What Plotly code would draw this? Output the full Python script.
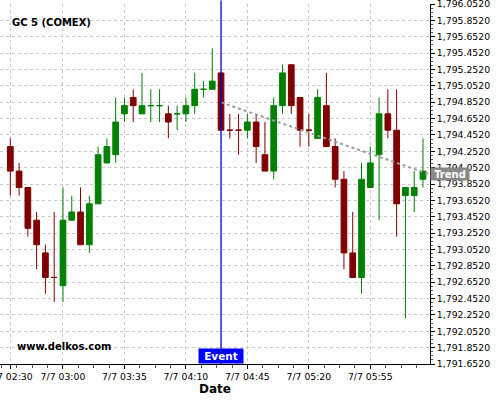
import plotly.graph_objects as go
import pandas as pd

# 5-minute bars, GC 5 (COMEX), 7/7 02:30 -> 06:25
times = pd.date_range("2021-07-07 02:30", periods=48, freq="5min")

opens = [1794.31, 1794.01, 1793.81, 1793.41, 1793.01, 1792.71, 1792.61, 1793.41,
         1793.51, 1793.11, 1793.61, 1794.11, 1794.21, 1794.71, 1794.91, 1794.71,
         1794.81, 1794.81, 1794.71, 1794.71, 1794.71, 1794.81, 1795.01, 1795.01,
         1795.21, 1794.51, 1794.51, 1794.51, 1794.61, 1794.21, 1794.01, 1794.81,
         1795.31, 1794.91, 1794.51, 1794.41, 1794.81, 1794.31, 1793.91, 1793.01,
         1792.71, 1793.81, 1794.21, 1794.71, 1794.51, 1793.71, 1793.71, 1793.91]
highs = [1794.41, 1794.11, 1793.81, 1793.51, 1793.11, 1793.51, 1793.81, 1793.71,
         1793.81, 1793.71, 1794.31, 1794.41, 1794.91, 1794.91, 1795.01, 1795.21,
         1795.01, 1795.01, 1794.81, 1794.81, 1794.91, 1795.21, 1795.11, 1795.51,
         1795.21, 1794.71, 1794.71, 1794.71, 1794.71, 1794.61, 1794.91, 1795.31,
         1795.31, 1794.91, 1794.71, 1795.01, 1795.21, 1794.41, 1794.01, 1793.51,
         1794.11, 1794.31, 1794.91, 1795.01, 1795.01, 1793.81, 1794.01, 1794.41]
lows = [1793.71, 1793.71, 1793.21, 1792.81, 1792.51, 1792.41, 1792.41, 1793.41,
        1793.11, 1793.01, 1793.61, 1794.11, 1794.11, 1794.61, 1794.61, 1794.71,
        1794.61, 1794.61, 1794.41, 1794.51, 1794.61, 1794.71, 1794.91, 1795.01,
        1794.51, 1794.41, 1794.21, 1794.41, 1794.11, 1794.01, 1793.91, 1794.71,
        1794.71, 1794.31, 1794.31, 1794.41, 1794.31, 1793.81, 1792.81, 1792.71,
        1792.51, 1793.81, 1793.41, 1794.41, 1793.21, 1792.21, 1793.51, 1793.81]
closes = [1794.01, 1793.81, 1793.31, 1793.11, 1792.71, 1792.71, 1793.41, 1793.51,
          1793.11, 1793.61, 1794.21, 1794.31, 1794.61, 1794.81, 1794.81, 1794.81,
          1794.81, 1794.81, 1794.61, 1794.71, 1794.81, 1795.01, 1795.01, 1795.11,
          1794.51, 1794.51, 1794.51, 1794.61, 1794.31, 1794.01, 1794.81, 1795.21,
          1794.81, 1794.51, 1794.51, 1794.91, 1794.31, 1793.91, 1793.01, 1792.71,
          1793.91, 1794.11, 1794.71, 1794.51, 1793.61, 1793.81, 1793.81, 1794.01]

tick_times = ["2021-07-07 02:30", "2021-07-07 03:00", "2021-07-07 03:35", "2021-07-07 04:10",
              "2021-07-07 04:45", "2021-07-07 05:20", "2021-07-07 05:55"]

event_time = "2021-07-07 04:30"
trend_times = ["2021-07-07 04:30", "2021-07-07 06:29"]
trend_prices = [1794.85, 1793.97]

x_range = ["2021-07-07 02:24:08", "2021-07-07 06:29:00"]
y_range = [1791.652, 1796.0525]

fig = go.Figure()
fig.add_trace(go.Candlestick(
    x=times, open=opens, high=highs, low=lows, close=closes,
    increasing=dict(line=dict(color="#008000", width=1), fillcolor="#008000"),
    decreasing=dict(line=dict(color="#800000", width=1), fillcolor="#800000"),
    whiskerwidth=0, hoverinfo="skip",
))
fig.add_trace(go.Scatter(
    x=trend_times, y=trend_prices, mode="lines",
    line=dict(color="#999999", width=2, dash="dot"), hoverinfo="skip",
))

# event marker
fig.add_shape(type="line", xref="x", yref="paper", x0=event_time, x1=event_time,
              y0=0, y1=1.01, line=dict(color="#0000cc", width=1.3))
fig.add_annotation(x=event_time, xref="x", y=0, yref="paper", yanchor="bottom",
                   text="<b>Event</b>", showarrow=False, bgcolor="#0000ff",
                   font=dict(color="white", size=10.5), width=42, height=12, borderpad=1)
fig.add_annotation(x=1, xref="paper", xanchor="left", y=trend_prices[-1], yref="y",
                   text="<b>Trend</b>", showarrow=False, bgcolor="#888888",
                   font=dict(color="white", size=10), width=36, height=10, borderpad=1)

fig.add_annotation(x=10 / 430, xref="paper", xanchor="left", y=0.9686, yref="paper",
                   text="<b>GC 5 (COMEX)</b>", showarrow=False, font=dict(size=10, color="black"))
fig.add_annotation(x=15 / 430, xref="paper", xanchor="left", y=0.028, yref="paper",
                   text="<b>www.delkos.com</b>", showarrow=False, font=dict(size=10, color="black"))
fig.add_annotation(x=0.5, xref="paper", y=-0.0694, yref="paper", yanchor="middle",
                   text="<b>Date</b>", showarrow=False, font=dict(size=12, color="black"))

fig.update_layout(
    width=500, height=400,
    margin=dict(l=0, r=70, t=4, b=36),
    paper_bgcolor="white", plot_bgcolor="white",
    showlegend=False,
    boxgap=0.35, boxgroupgap=0,
    font=dict(family="DejaVu Sans", size=9.3, color="black"),
    xaxis=dict(
        range=x_range, rangeslider=dict(visible=False), automargin=False,
        tickmode="array", tickvals=tick_times, tickformat="%-m/%-d %H:%M",
        ticklabeloverflow="allow",
        ticks="outside", ticklen=4, tickcolor="black",
        showgrid=True, gridcolor="#c8c8c8", griddash="3px,3px", gridwidth=1,
        showline=True, linecolor="black", linewidth=1, zeroline=False,
        minor=dict(ticks="outside", ticklen=3, tickcolor="#555555",
                   tick0="2021-07-07 03:00", dtick=525000, showgrid=False),
    ),
    yaxis=dict(
        side="right", range=y_range, automargin=False,
        tick0=1791.652, dtick=0.2, tickformat=",.4f",
        ticklabeloverflow="allow",
        ticks="outside", ticklen=4, tickcolor="black",
        showgrid=True, gridcolor="#c8c8c8", griddash="3px,3px", gridwidth=1,
        showline=True, linecolor="black", linewidth=1, zeroline=False,
        minor=dict(ticks="outside", ticklen=2, tickcolor="#555555",
                   tick0=1791.652, dtick=0.05, showgrid=False),
    ),
)

# drop the page's default body margin so the figure sits at the window's corner
fig.write_html("out.html", config={"displayModeBar": False},
               post_script="document.body.style.margin='0';")
